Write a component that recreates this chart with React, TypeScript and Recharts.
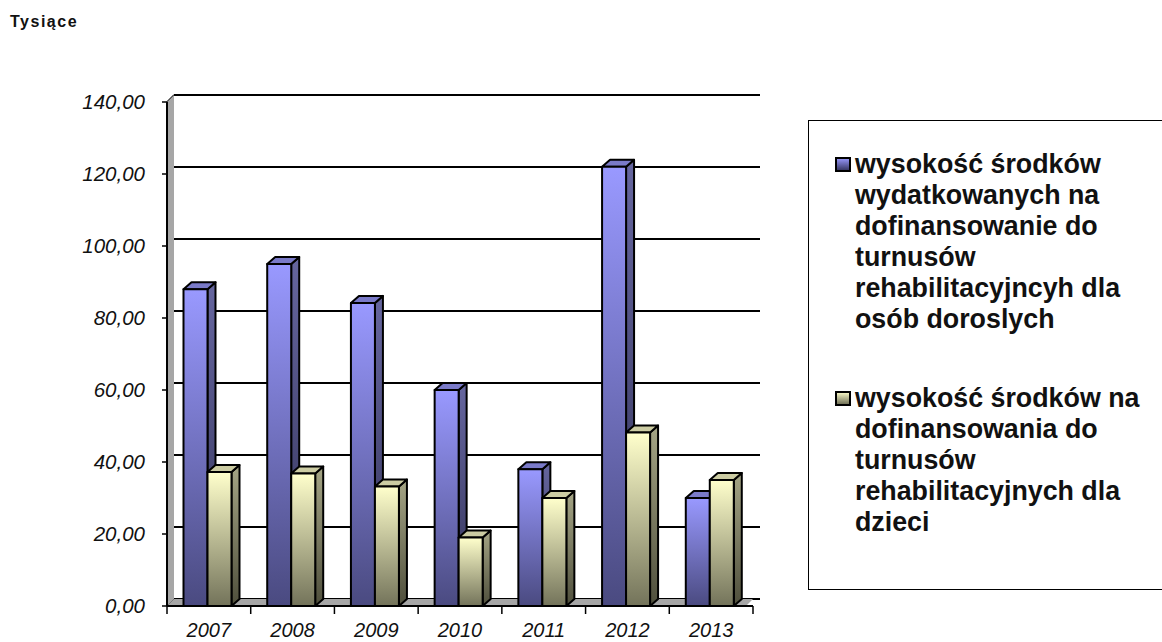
import React from 'react';
import { BarChart, Bar, XAxis, YAxis, CartesianGrid, Legend, usePlotArea } from 'recharts';

const categories = ['2007', '2008', '2009', '2010', '2011', '2012', '2013'];
const adults = [88, 95, 84.2, 60, 38, 122, 30];
const children = [37.2, 36.8, 33.2, 19, 30, 48.2, 35];
const yTicks = [0, 20, 40, 60, 80, 100, 120, 140];
const adultsLabel = 'wysokość środków wydatkowanych na dofinansowanie do turnusów rehabilitacyjncyh dla osób doroslych';
const childrenLabel = 'wysokość środków na dofinansowania do turnusów rehabilitacyjnych dla dzieci';
const adultsLines = ['wysokość środków', 'wydatkowanych na', 'dofinansowanie do', 'turnusów', 'rehabilitacyjncyh dla', 'osób doroslych'];
const childrenLines = ['wysokość środków na', 'dofinansowania do', 'turnusów', 'rehabilitacyjnych dla', 'dzieci'];

const data = categories.map((year, i) => ({ year, adults: adults[i], children: children[i] }));

const W = 1162, H = 642;
const DX = 7, DY = 7, BAR_DX = 8;
const FONT = '"Liberation Sans", Arial, sans-serif';

const Defs = () => (
  <defs>
    <linearGradient id="blueFront" x1="0" y1="0" x2="0" y2="1">
      <stop offset="0" stopColor="#9999ff" />
      <stop offset="1" stopColor="#4a4a80" />
    </linearGradient>
    <linearGradient id="blueSide" x1="0" y1="0" x2="0" y2="1">
      <stop offset="0" stopColor="#66669f" />
      <stop offset="1" stopColor="#323258" />
    </linearGradient>
    <linearGradient id="yellowFront" x1="0" y1="0" x2="0" y2="1">
      <stop offset="0" stopColor="#ffffcc" />
      <stop offset="1" stopColor="#73735a" />
    </linearGradient>
    <linearGradient id="yellowSide" x1="0" y1="0" x2="0" y2="1">
      <stop offset="0" stopColor="#a5a585" />
      <stop offset="1" stopColor="#4f4f3c" />
    </linearGradient>
  </defs>
);

const Walls = () => {
  const p = usePlotArea();
  if (!p) return null;
  const r = p.x + p.width, b = p.y + p.height;
  return (
    <g>
      <polygon points={`${p.x},${p.y} ${p.x + DX},${p.y - DY} ${p.x + DX},${b - DY} ${p.x},${b}`} fill="#a6a6a6" />
      <polygon points={`${p.x},${b} ${p.x + DX},${b - DY} ${r},${b - DY} ${r - DX},${b}`} fill="#a6a6a6" />
    </g>
  );
};

const GridLine = (props: any) => {
  const { x1, x2, y1 } = props;
  return (
    <g>
      <line x1={x1} y1={y1} x2={x1 + DX} y2={y1 - DY} stroke="#000" strokeWidth={1.5} />
      <line x1={x1 + DX} y1={y1 - DY} x2={x2 + DX} y2={y1 - DY} stroke="#000" strokeWidth={2} />
    </g>
  );
};

const makeBar = (front: string, side: string, top: string) => (props: any) => {
  const { y, width, height } = props;
  const x = props.x - 1.5;
  const r = x + width, b = y + height;
  const outline = { stroke: '#000', strokeWidth: 2, strokeLinejoin: 'round' as const };
  return (
    <g>
      <polygon points={`${r},${y} ${r + BAR_DX},${y - DY} ${r + BAR_DX},${b - DY} ${r},${b}`} fill={`url(#${side})`} {...outline} />
      <polygon points={`${x},${y} ${x + BAR_DX},${y - DY} ${r + BAR_DX},${y - DY} ${r},${y}`} fill={top} {...outline} />
      <rect x={x} y={y} width={width} height={height} fill={`url(#${front})`} {...outline} />
    </g>
  );
};

const XTick = (props: any) => {
  const { x, y, index, payload, step } = props;
  const last = index === categories.length - 1;
  return (
    <g>
      <line x1={x - step / 2} y1={y - 8} x2={x - step / 2} y2={y} stroke="#000" strokeWidth={1.5} />
      {last && <line x1={x + step / 2} y1={y - 8} x2={x + step / 2} y2={y} stroke="#000" strokeWidth={1.5} />}
      <text x={x} y={y + 23} textAnchor="middle" fontFamily={FONT} fontStyle="italic" fontSize={20} fill="#111">
        {payload.value}
      </text>
    </g>
  );
};

const swatch = (gradient: string) => (
  <svg width={20} height={20} style={{ position: 'absolute', left: -20, top: 7 }}>
    <defs>
      <linearGradient id={`sw-${gradient}`} x1="0" y1="0" x2="0" y2="1">
        <stop offset="0" stopColor={gradient === 'blue' ? '#9999ff' : '#ffffcc'} />
        <stop offset="1" stopColor={gradient === 'blue' ? '#30305a' : '#66664f'} />
      </linearGradient>
    </defs>
    <rect x={1} y={2} width={14} height={13} fill={`url(#sw-${gradient})`} stroke="#000" strokeWidth={2} />
  </svg>
);

const LegendBox = () => (
  <div
    style={{
      position: 'absolute', left: 808, top: 120, width: 360, height: 470, boxSizing: 'border-box',
      border: '1px solid #000', background: '#fff', fontFamily: FONT, fontWeight: 700, fontSize: 26.8,
      lineHeight: '31px', color: '#111',
    }}
  >
    <div style={{ position: 'absolute', left: 46, top: 28, whiteSpace: 'nowrap' }}>
      {swatch('blue')}
      {adultsLines.map((l) => <div key={l}>{l}</div>)}
    </div>
    <div style={{ position: 'absolute', left: 46, top: 262, whiteSpace: 'nowrap' }}>
      {swatch('yellow')}
      {childrenLines.map((l) => <div key={l}>{l}</div>)}
    </div>
  </div>
);

export default function App() {
  const margin = { top: 102, right: 409, bottom: 0, left: 77 };
  const yAxisWidth = 90;
  const step = (W - margin.left - yAxisWidth - margin.right) / categories.length;
  return (
    <div style={{ position: 'absolute', left: 0, top: 0, width: W, height: H, background: '#fff', overflow: 'hidden' }}>
      <div style={{ position: 'absolute', left: 10, top: 13, fontFamily: FONT, fontWeight: 700, fontSize: 16, letterSpacing: 1.5, color: '#111' }}>
        Tysiące
      </div>
      <BarChart width={W} height={H} data={data} margin={margin} barSize={24} barGap={0}>
        <Defs />
        <Walls />
        <CartesianGrid vertical={false} horizontal={(p: any) => <GridLine key={p.key ?? p.index} {...p} />} syncWithTicks />
        <XAxis
          dataKey="year"
          axisLine={{ stroke: '#000', strokeWidth: 2 }}
          tickLine={false}
          interval={0}
          height={36}
          tick={(p: any) => <XTick {...p} step={step} />}
        />
        <YAxis
          width={yAxisWidth}
          domain={[0, 140]}
          ticks={yTicks}
          interval={0}
          axisLine={{ stroke: '#000', strokeWidth: 2 }}
          tickLine={{ stroke: '#000', strokeWidth: 1.5 }}
          tickSize={5}
          tickMargin={17}
          tickFormatter={(v: number) => v.toFixed(2).replace('.', ',')}
          tick={{ fontFamily: FONT, fontStyle: 'italic', fontSize: 20.5, fill: '#111' }}
        />
        <Bar dataKey="adults" name={adultsLabel} isAnimationActive={false} shape={makeBar('blueFront', 'blueSide', '#7a7ac8')} />
        <Bar dataKey="children" name={childrenLabel} isAnimationActive={false} shape={makeBar('yellowFront', 'yellowSide', '#cccca3')} />
        <Legend content={() => <LegendBox />} wrapperStyle={{ position: 'absolute', left: 0, top: 0, width: 0, height: 0 }} />
      </BarChart>
    </div>
  );
}
